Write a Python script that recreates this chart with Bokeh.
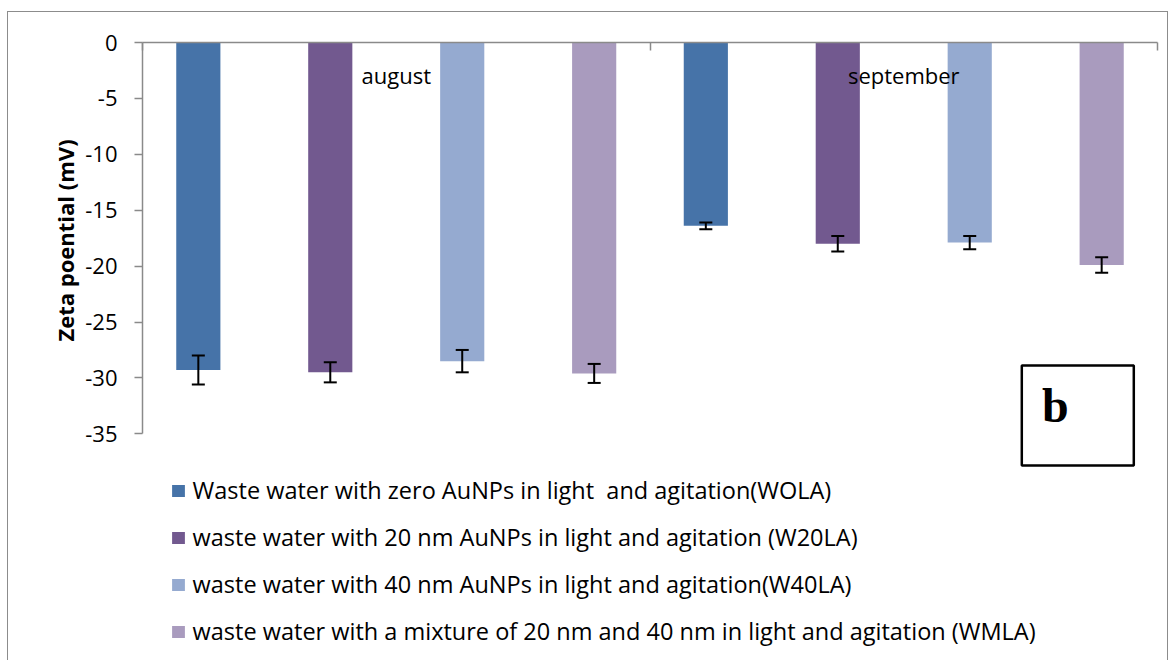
from bokeh.plotting import figure
from bokeh.models import (Range1d, LinearAxis, FixedTicker, Whisker, Title,
                          ColumnDataSource, Legend, LegendItem, Label, BoxAnnotation, TeeHead)
from bokeh.core.properties import value
from bokeh.embed import file_html
from bokeh.resources import INLINE

# ---------------- data ----------------
months = ["august", "september"]
series_names = [
    "Waste water with zero AuNPs in light  and agitation(WOLA)",
    "waste water with 20 nm AuNPs in light and agitation (W20LA)",
    "waste water with 40 nm AuNPs in light and agitation(W40LA)",
    "waste water with a mixture of 20 nm and 40 nm in light and agitation (WMLA)",
]
wola = [-29.3, -16.4]
w20la = [-29.5, -18.0]
w40la = [-28.5, -17.9]
wmla = [-29.6, -19.9]
wola_err = [1.3, 0.3]
w20la_err = [0.9, 0.7]
w40la_err = [1.0, 0.6]
wmla_err = [0.85, 0.7]
y_ticks = [0, -5, -10, -15, -20, -25, -30, -35]
y_title = "Zeta poential (mV)"

values = [wola, w20la, w40la, wmla]
errors = [wola_err, w20la_err, w40la_err, wmla_err]

# ---------------- styles / layout ----------------
colors = ["#4673A8", "#72598F", "#95AAD0", "#A99BBE"]
offsets = [-0.39, -0.13, 0.13, 0.39]
bar_width = 0.087
axis_gray = "#8a8a8a"
FONT = "Open Sans"

W, H = 1161, 649
MB_LEFT, MB_RIGHT, MB_TOP = 134, 12, 30
AXIS_PX = 391.3                       # pixel height of the 0..-35 axis
frame_h = H - MB_TOP
y_min_axis = min(y_ticks)
y_bottom = y_min_axis * frame_h / AXIS_PX   # extend range so legend/box fit inside the frame

n = len(months)
centers = [i + 0.5 for i in range(n)]  # category centres on a 0..n axis

p = figure(width=W, height=H,
           x_range=Range1d(0, n),
           y_range=Range1d(y_bottom, 0),
           x_axis_location=None,
           output_backend="svg", toolbar_location=None,
           min_border_left=MB_LEFT, min_border_right=MB_RIGHT,
           min_border_top=MB_TOP, min_border_bottom=0)
p.outline_line_color = None
p.grid.visible = False
p.background_fill_color = "white"
p.border_fill_color = "white"
p.styles = {"margin-left": "7px", "margin-top": "11px",
            "border-top": "1px solid #8c8c8c",
            "border-left": "1px solid #8c8c8c",
            "border-right": "1px solid #8c8c8c"}

# y axis
yax = p.yaxis[0]
yax.ticker = FixedTicker(ticks=y_ticks)
yax.bounds = (y_min_axis, 0)
yax.major_label_overrides = {t: str(t) for t in y_ticks}
yax.axis_line_color = axis_gray
yax.axis_line_width = 1.5
yax.major_tick_line_color = axis_gray
yax.major_tick_line_width = 1.5
yax.major_tick_out = 8
yax.major_tick_in = 0
yax.minor_tick_line_color = None
yax.major_label_text_font = FONT
yax.major_label_text_font_size = "22px"
yax.major_label_text_color = "black"
yax.major_label_standoff = 17

# y-axis title, placed along the 0..-35 part of the axis
p.add_layout(Title(text=y_title, align="left", offset=320,
                   text_font=FONT, text_font_style="bold", text_font_size="22px",
                   text_color="black", standoff=6), "left")

# top category axis with ticks at category boundaries
top_ticks = list(range(n + 1))
top = LinearAxis(ticker=FixedTicker(ticks=top_ticks))
top.major_label_overrides = {t: "" for t in top_ticks}
top.axis_line_color = axis_gray
top.axis_line_width = 1.5
top.major_tick_line_color = axis_gray
top.major_tick_line_width = 1.5
top.major_tick_in = 8
top.major_tick_out = 0
top.minor_tick_line_color = None
top.major_label_standoff = 0
p.add_layout(top, "above")

# bars + error bars
items = []
for name, vals, errs, col, off in zip(series_names, values, errors, colors, offsets):
    src = ColumnDataSource(dict(
        x=[c + off for c in centers], v=vals,
        upper=[v + e for v, e in zip(vals, errs)],
        lower=[v - e for v, e in zip(vals, errs)],
    ))
    r = p.vbar(x="x", top="v", bottom=0, width=bar_width, source=src,
               fill_color=col, line_color=None)
    w = Whisker(base="x", upper="upper", lower="lower", source=src,
                line_color="black", line_width=2, level="overlay",
                upper_head=TeeHead(size=13, line_color="black", line_width=2),
                lower_head=TeeHead(size=13, line_color="black", line_width=2))
    p.add_layout(w)
    items.append(LegendItem(label=name, renderers=[r]))

# month labels
p.text(x=centers, y=[-2.9] * n, text=months,
       text_align="center", text_baseline="alphabetic",
       text_font=value(FONT), text_font_size="22px", text_color="black")

# legend below the bars (inside the extended frame)
legend = Legend(items=items, location=(27.6, 14))
legend.label_text_font = FONT
legend.label_text_font_size = "23.5px"
legend.label_text_color = "black"
legend.glyph_width = 16
legend.glyph_height = 15
legend.label_standoff = 7
legend.label_height = 32
legend.spacing = 15
legend.padding = 0
legend.margin = 0
legend.border_line_color = None
legend.background_fill_alpha = 0
p.add_layout(legend)

# "b" panel label
box = BoxAnnotation(left=879.3, right=991.3, top=296, bottom=196,
                    left_units="screen", right_units="screen",
                    top_units="screen", bottom_units="screen",
                    fill_color="white", fill_alpha=1,
                    line_color="black", line_width=2.5, line_alpha=1)
p.add_layout(box)
p.add_layout(Label(x=899.6, y=256, x_units="screen", y_units="screen", text="b",
                   text_font="Liberation Serif", text_font_style="bold",
                   text_font_size="48px", text_baseline="alphabetic", text_color="black"))

open("out.html", "w").write(file_html(p, INLINE))
